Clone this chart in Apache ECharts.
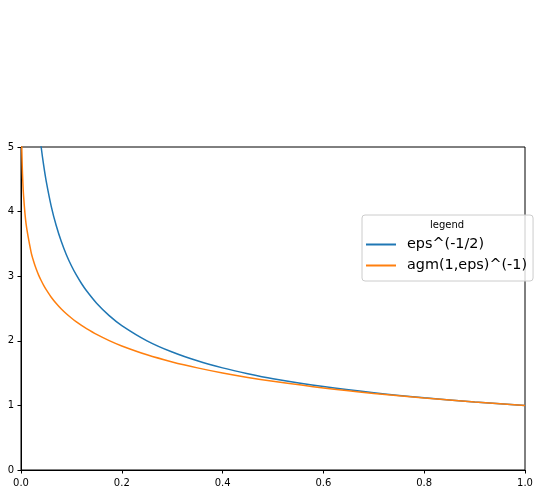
<!DOCTYPE html>
<html><head><meta charset="utf-8">
<script src="https://cdn.jsdelivr.net/npm/echarts@6/dist/echarts.min.js"></script>
<style>html,body{margin:0;padding:0;background:#fff}#c{width:539px;height:495px}</style>
</head><body><div id="c"></div>
<script>
const seriesNames = ['eps^(-1/2)', 'agm(1,eps)^(-1)'];
const xTickLabels = ['0.0','0.2','0.4','0.6','0.8','1.0'];
const yTickLabels = ['0','1','2','3','4','5'];
const epsValues = [0.001,0.0015,0.002,0.003,0.005,0.01,0.02,0.025,0.03,0.035,0.04,0.045,0.05,0.06,0.07,0.08,0.09,0.1,0.11,0.12,0.13,0.15,0.175,0.2,0.25,0.3,0.35,0.4,0.45,0.5,0.6,0.7,0.8,0.9,1.0];
const invSqrtValues = [31.6,25.8,22.4,18.3,14.1,10.0,7.07,6.32,5.77,5.35,5.0,4.714,4.472,4.082,3.780,3.536,3.333,3.162,3.015,2.887,2.774,2.582,2.390,2.236,2.0,1.826,1.690,1.581,1.491,1.414,1.291,1.195,1.118,1.054,1.0];
const invAgmValues = [5.28,5.02,4.84,4.58,4.256,3.814,3.373,3.231,3.115,3.017,2.933,2.858,2.791,2.675,2.578,2.493,2.419,2.353,2.293,2.238,2.188,2.099,2.003,1.920,1.783,1.673,1.581,1.502,1.433,1.373,1.270,1.186,1.115,1.053,1.0];

const chart = echarts.init(document.getElementById('c'), null, {renderer:'canvas'});
const font = 'DejaVu Sans';
chart.setOption({
  animation: false,
  backgroundColor: '#fff',
  grid: {left: 21, top: 147, width: 504, height: 323, show: true, borderColor: '#000', borderWidth: 1, backgroundColor: 'transparent', containLabel: false},
  xAxis: {type: 'value', min: 0, max: 1, interval: 0.2,
    axisLine: {show: true, lineStyle: {color: '#000', width: 1}},
    axisTick: {show: true, length: 3.5, lineStyle: {color: '#000'}},
    splitLine: {show: false},
    axisLabel: {margin: 8, fontFamily: font, fontSize: 10, color: '#000', formatter: (v) => xTickLabels[Math.round(v/0.2)]}},
  yAxis: {type: 'value', min: 0, max: 5, interval: 1,
    axisLine: {show: true, lineStyle: {color: '#000', width: 1}},
    axisTick: {show: true, length: 3.5, lineStyle: {color: '#000'}},
    splitLine: {show: false},
    axisLabel: {margin: 7, fontFamily: font, fontSize: 10, color: '#000', formatter: (v) => yTickLabels[Math.round(v)]}},
  legend: {
    orient: 'vertical', left: 362, top: 215,
    padding: [21, 6, 7, 4], itemGap: 4, itemWidth: 30, itemHeight: 2,
    backgroundColor: 'rgba(255,255,255,0.8)', borderColor: '#cccccc', borderWidth: 1, borderRadius: 3,
    textStyle: {fontFamily: font, fontSize: 14.4, color: '#000', lineHeight: 17, padding: [0,0,0,6]},
    data: seriesNames.map(n => ({name: n, icon: 'rect'}))
  },
  graphic: [{type: 'text', left: 430, top: 220, style: {text: 'legend', font: '10px "DejaVu Sans"', fill: '#000'}, z: 100}],
  series: [
    {name: seriesNames[0], type: 'line', showSymbol: false, symbol: 'none', smooth: 0.3, clip: true,
     color: '#1f77b4', lineStyle: {width: 1.5, color: '#1f77b4'},
     data: epsValues.map((x,i) => [x, invSqrtValues[i]])},
    {name: seriesNames[1], type: 'line', showSymbol: false, symbol: 'none', smooth: 0.3, clip: true,
     color: '#ff7f0e', lineStyle: {width: 1.5, color: '#ff7f0e'},
     data: epsValues.map((x,i) => [x, invAgmValues[i]])}
  ]
});
</script></body></html>
